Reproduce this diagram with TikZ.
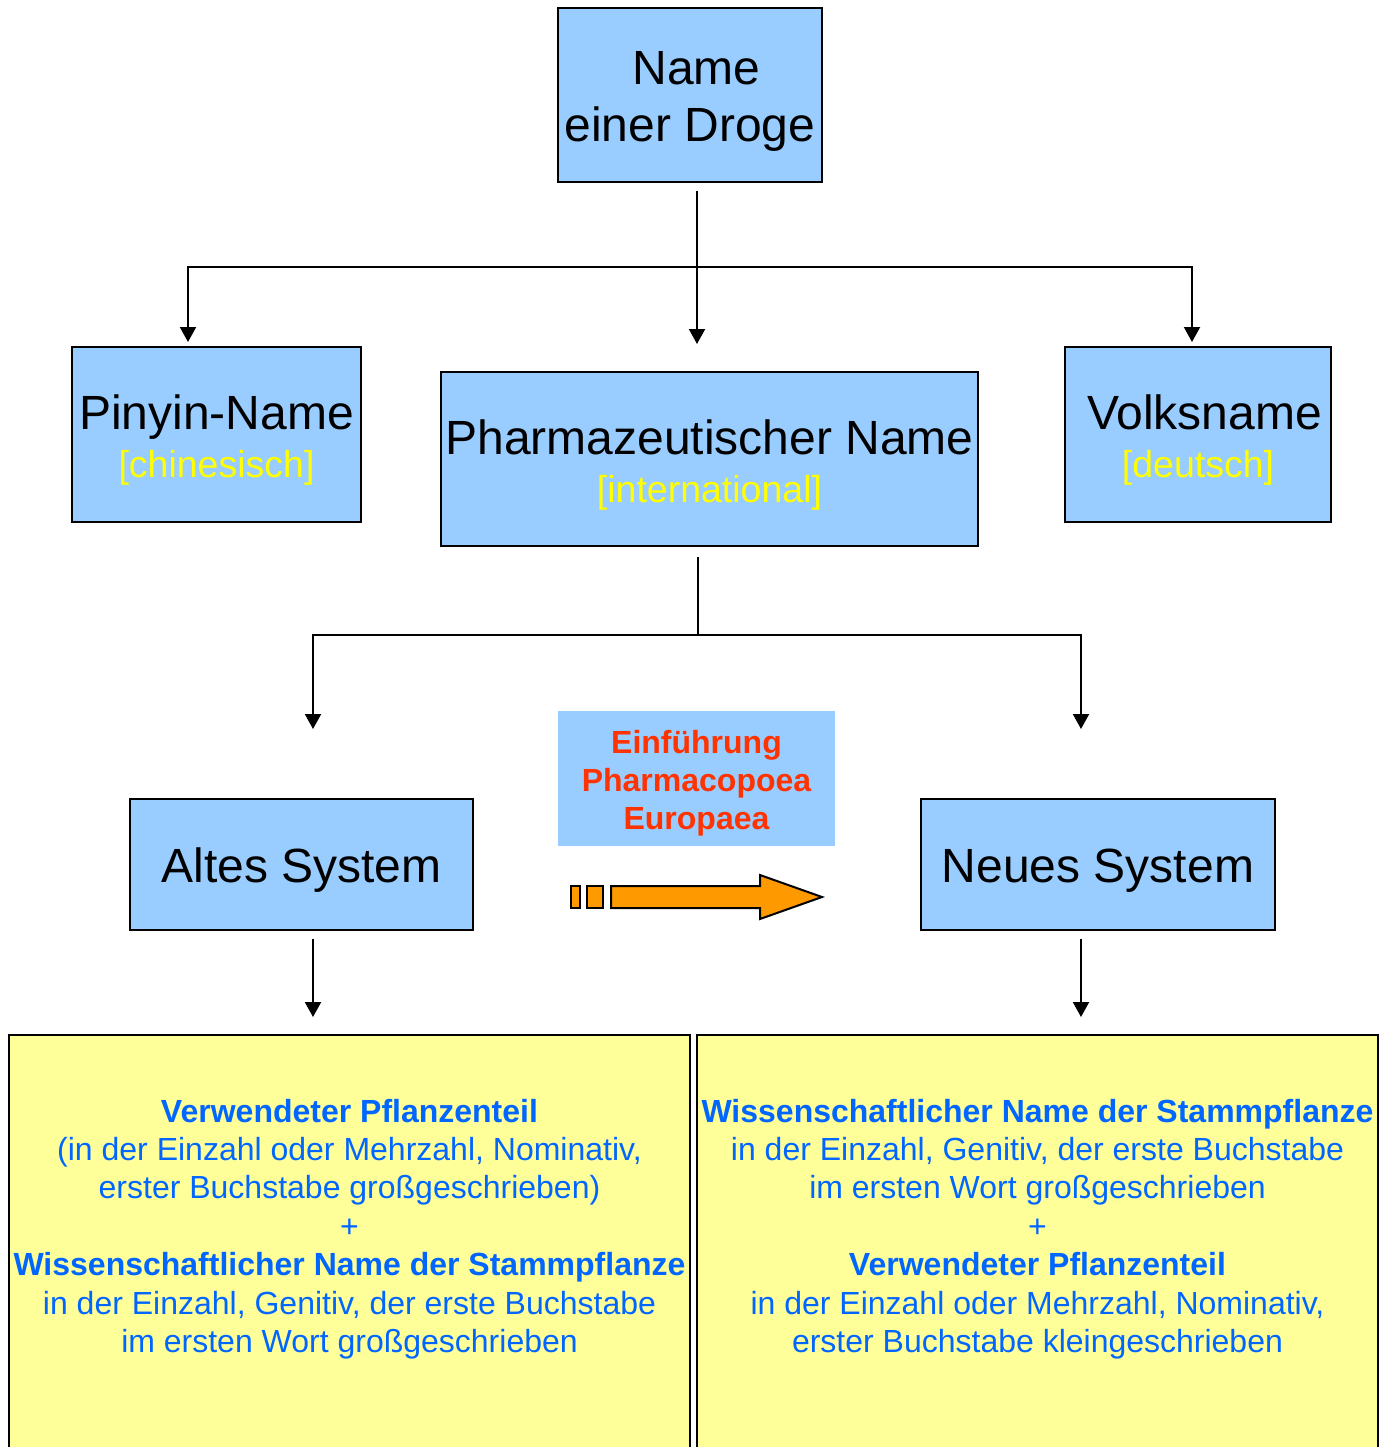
\documentclass[tikz,border=0pt]{standalone}
\usepackage{fontspec}
\setmainfont{Liberation Sans}
\usetikzlibrary{arrows.meta,positioning,calc}
\definecolor{drugblue}{RGB}{153,204,255}
\definecolor{ruleyellow}{RGB}{255,255,153}
\definecolor{ruleblue}{RGB}{0,102,255}
\definecolor{introred}{RGB}{255,51,0}
\definecolor{langyellow}{RGB}{255,255,0}
\definecolor{arroworange}{RGB}{255,153,0}

\tikzset{
  namebox/.style={draw, line width=1pt, fill=drugblue, inner sep=0pt, align=center,
    font=\fontsize{24}{24}\selectfont},
  rulebox/.style={draw, line width=1pt, fill=ruleyellow, inner sep=0pt,
    minimum width=340.5pt, minimum height=212.5pt},
  ruletext/.style={align=center, text=ruleblue, font=\fontsize{16}{19.2}\selectfont},
  link/.style={line width=1pt},
  arr/.style={link, -{Triangle[length=7.5pt,width=8pt]}},
}
\newcommand{\lang}[1]{{\fontsize{18.75}{22}\selectfont\color{langyellow}#1}}
\newcommand{\upstrut}[1][0.97em]{\rule{0pt}{#1}}

\begin{document}
\begin{tikzpicture}[x=0.5pt,y=-0.5pt]
    \useasboundingbox (0,0) rectangle (1384,1447);
    % names
    \node[namebox, minimum width=132pt, minimum height=87pt,
      font=\fontsize{24}{28.5}\selectfont] (drug) at (690,95) {\upstrut~Name\\einer Droge};
    \node[namebox, minimum width=144.5pt, minimum height=87.5pt] (pinyin) at (216.5,434.5)
      {\upstrut Pinyin-Name\\\lang{[chinesisch]}};
    \node[namebox, minimum width=268.5pt, minimum height=87pt] (pharm) at (709.5,459)
      {\upstrut Pharmazeutischer Name\\\lang{[international]}};
    \node[namebox, minimum width=133pt, minimum height=87.5pt] (volks) at (1198,434.5)
      {\upstrut~Volksname\\\lang{[deutsch]}};
    % systems
    \node[namebox, minimum width=171.5pt, minimum height=65.5pt] (altes) at (301.5,864.5)
      {\upstrut Altes System};
    \node[namebox, minimum width=177pt, minimum height=65.5pt] (neues) at (1098,864.5)
      {\upstrut Neues System};
    \node[fill=drugblue, inner sep=0pt, minimum width=138.5pt, minimum height=67.5pt, align=center,
      text=introred, font=\fontsize{16}{19}\selectfont\bfseries] (intro) at (696.5,778.5)
      {\upstrut[1.04em]Einführung\\Pharmacopoea\\Europaea};
    % rules
    \node[rulebox] (oldrule) at (349.5,1247.5) {};
    \node[rulebox] (newrule) at (1037.5,1247.5) {};
    \node[ruletext] (oldtext) at (349.5,1225)
      {\upstrut[0.98em]\textbf{Verwendeter Pflanzenteil}\\
       (in der Einzahl oder Mehrzahl, Nominativ,\\
       erster Buchstabe großgeschrieben)\\
       +\\
       \textbf{Wissenschaftlicher Name der Stammpflanze}\\
       in der Einzahl, Genitiv, der erste Buchstabe\\
       im ersten Wort großgeschrieben};
    \node[ruletext] (newtext) at (1037.5,1225)
      {\upstrut[0.98em]\textbf{Wissenschaftlicher Name der Stammpflanze}\\
       in der Einzahl, Genitiv, der erste Buchstabe\\
       im ersten Wort großgeschrieben\\
       +\\
       \textbf{Verwendeter Pflanzenteil}\\
       in der Einzahl oder Mehrzahl, Nominativ,\\
       erster Buchstabe kleingeschrieben};
    % connectors
    \coordinate (hub1) at (697,267);
    \coordinate (hub2) at (698,635);
    \draw[arr, shorten <=4pt, shorten >=13.5pt] (drug.south -| hub1) -- (pharm.north -| hub1);
    \draw[arr, shorten >=2pt] (hub1) -| ([xshift=-14.25pt]pinyin.north);
    \draw[arr, shorten >=2pt] (hub1) -| ([xshift=-3pt]volks.north);
    \draw[link, shorten <=5pt] (pharm.south -| hub2) -- (hub2);
    \draw[arr, shorten >=34.5pt] (hub2) -| ([xshift=5.75pt]altes.north);
    \draw[arr, shorten >=34.5pt] (hub2) -| ([xshift=-8.5pt]neues.north);
    \draw[arr, shorten <=4pt, shorten >=8.5pt] ([xshift=5.75pt]altes.south)
      -- ([xshift=5.75pt]altes.south |- oldrule.north);
    \draw[arr, shorten <=4pt, shorten >=8.5pt] ([xshift=-8.5pt]neues.south)
      -- ([xshift=-8.5pt]neues.south |- newrule.north);
    % change arrow
    \draw[link, fill=arroworange] (571,886) rectangle (580,908);
    \draw[link, fill=arroworange] (587,886) rectangle (603,908);
    \draw[link, fill=arroworange] (611,886) -- (760,886) -- (760,875) -- (822,897)
      -- (760,919) -- (760,908) -- (611,908) -- cycle;
\end{tikzpicture}
\end{document}
